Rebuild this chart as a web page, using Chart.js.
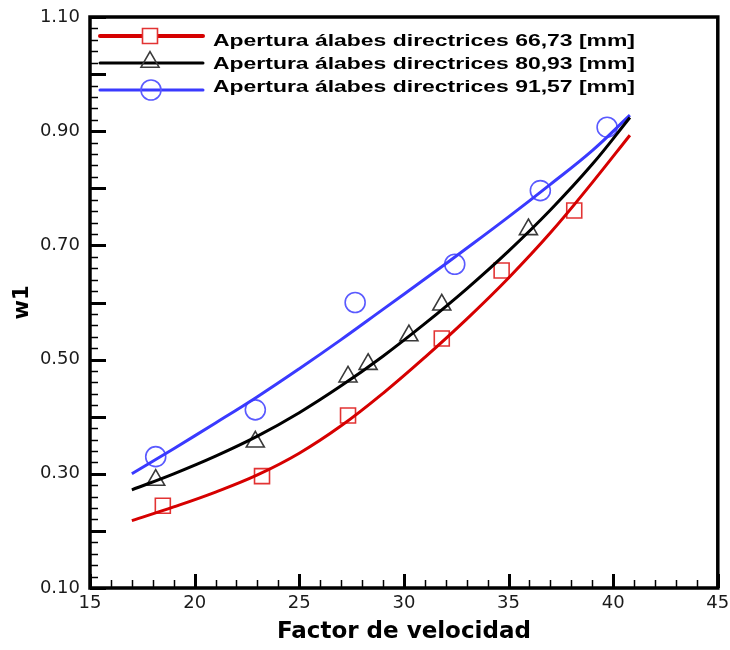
<!DOCTYPE html>
<html><head><meta charset="utf-8">
<script src="https://cdn.jsdelivr.net/npm/chart.js@4.4.1/dist/chart.umd.min.js"></script>
<style>html,body{margin:0;padding:0;background:#fff}</style>
</head><body>
<canvas id="c" width="730" height="650" style="display:block;width:730px;height:650px"></canvas>
<script>
// ---- data ----
const seriesLabels = [
  'Apertura álabes directrices 66,73 [mm]',
  'Apertura álabes directrices 80,93 [mm]',
  'Apertura álabes directrices 91,57 [mm]'
];
const xTitle = 'Factor de velocidad';
const yTitle = 'w1';

// fitted curves
const curveX     = [17, 19, 21, 23, 25, 27, 29, 31, 33, 35, 37, 39, 40.8];
const redCurve   = [0.218, 0.242, 0.268, 0.298, 0.336, 0.384, 0.441, 0.504, 0.571, 0.643, 0.722, 0.810, 0.893];
const blackCurve = [0.272, 0.300, 0.331, 0.366, 0.407, 0.454, 0.506, 0.563, 0.624, 0.690, 0.762, 0.842, 0.924];
const blueCurve  = [0.300, 0.344, 0.389, 0.435, 0.484, 0.535, 0.588, 0.641, 0.695, 0.750, 0.807, 0.866, 0.928];

// measured points
const redX   = [18.48, 23.22, 27.33, 31.81, 34.67, 38.14];
const redY   = [0.244, 0.296, 0.402, 0.537, 0.656, 0.761];
const blackX = [18.14, 22.90, 27.33, 28.29, 30.24, 31.81, 35.95];
const blackY = [0.289, 0.356, 0.470, 0.492, 0.542, 0.596, 0.728];
const blueX  = [18.14, 22.90, 27.67, 32.43, 36.52, 39.71];
const blueY  = [0.330, 0.412, 0.600, 0.667, 0.796, 0.907];

const xMin = 15, xMax = 45, xStep = 5, xMinor = 1;
const yMin = 0.1, yMax = 1.1, yStep = 0.2, yMajor = 0.1, yMinor = 0.02;

// ---- build chart ----
const pts = (xs, ys) => xs.map((x, i) => ({x: x, y: ys[i]}));
const lineColors = ['#d60000', '#000000', '#3a3aff'];
const markColors = ['#e23333', '#3a3a3a', '#5a5aff'];
const markStyles = ['rect', 'triangle', 'circle'];
const markRadius = [10.6, 10.4, 10];

const datasets = [];
[redCurve, blackCurve, blueCurve].forEach((c, i) => {
  datasets.push({
    label: seriesLabels[i], data: pts(curveX, c), showLine: true,
    borderColor: lineColors[i], borderWidth: 3, pointRadius: 0,
    tension: 0.4, fill: false
  });
});
[[redX, redY], [blackX, blackY], [blueX, blueY]].forEach((p, i) => {
  datasets.push({
    label: seriesLabels[i] + ' (pts)', data: pts(p[0], p[1]), showLine: false,
    pointStyle: markStyles[i], pointRadius: markRadius[i], pointHoverRadius: markRadius[i],
    pointBorderColor: markColors[i], pointBackgroundColor: 'rgba(0,0,0,0)',
    pointBorderWidth: 1.6, borderColor: markColors[i], backgroundColor: 'rgba(0,0,0,0)'
  });
});

const frameTicks = {
  id: 'frameTicks',
  afterDraw(chart) {
    const {ctx, chartArea: a, scales: {x, y}} = chart;
    ctx.save();
    ctx.strokeStyle = '#000';
    const nx = Math.round((xMax - xMin) / xMinor);
    for (let i = 0; i <= nx; i++) {
      const v = xMin + i * xMinor;
      const major = i % Math.round(xStep / xMinor) === 0;
      const px = Math.round(x.getPixelForValue(v)) + 0.5;
      ctx.lineWidth = major ? 3 : 1.5;
      ctx.beginPath();
      ctx.moveTo(px, a.bottom);
      ctx.lineTo(px, a.bottom - (major ? 14 : 8));
      ctx.stroke();
    }
    const ny = Math.round((yMax - yMin) / yMinor);
    const per = Math.round(yMajor / yMinor);
    for (let i = 0; i <= ny; i++) {
      const v = yMin + i * yMinor;
      const major = i % per === 0;
      const py = Math.round(y.getPixelForValue(v)) + 0.5;
      ctx.lineWidth = major ? 3 : 1.5;
      ctx.beginPath();
      ctx.moveTo(a.left, py);
      ctx.lineTo(a.left + (major ? 16 : 8), py);
      ctx.stroke();
    }
    ctx.lineWidth = 3.5;
    ctx.strokeRect(a.left, a.top, a.right - a.left, a.bottom - a.top);
    ctx.restore();
  }
};

const legendBox = {
  id: 'legendBox',
  afterDraw(chart) {
    const {ctx, chartArea: a} = chart;
    const lineY = [a.top + 19, a.top + 46, a.top + 73];
    const textY = [a.top + 29, a.top + 52, a.top + 75];
    const lw = [4, 3, 3];
    const x0 = a.left + 10, x1 = a.left + 113, xm = a.left + 60, tx = a.left + 123;
    ctx.save();
    for (let i = 0; i < 3; i++) {
      ctx.strokeStyle = lineColors[i];
      ctx.lineWidth = lw[i];
      ctx.lineCap = 'round';
      ctx.beginPath(); ctx.moveTo(x0, lineY[i]); ctx.lineTo(x1, lineY[i]); ctx.stroke();
      ctx.lineCap = 'butt';
      ctx.strokeStyle = markColors[i];
      ctx.lineWidth = 1.6;
      ctx.fillStyle = '#fff';
      const r = markRadius[i];
      ctx.beginPath();
      if (markStyles[i] === 'rect') {
        const s = r * Math.SQRT1_2;
        ctx.rect(xm - s, lineY[i] - s, 2 * s, 2 * s);
        ctx.fill();
      } else if (markStyles[i] === 'triangle') {
        const cy = lineY[i] - 1;
        let ang = 0;
        ctx.moveTo(xm + Math.sin(ang) * r, cy - Math.cos(ang) * r);
        for (let k = 0; k < 2; k++) { ang += 2 * Math.PI / 3; ctx.lineTo(xm + Math.sin(ang) * r, cy - Math.cos(ang) * r); }
        ctx.closePath();
      } else {
        ctx.arc(xm + 1, lineY[i], r, 0, Math.PI * 2);
      }
      ctx.stroke();
      ctx.fillStyle = '#000';
      ctx.font = 'bold 17px "Liberation Sans"';
      ctx.textBaseline = 'alphabetic';
      const w0 = ctx.measureText(seriesLabels[i]).width;
      const sx = 422 / w0;
      ctx.save();
      ctx.translate(tx, textY[i]);
      ctx.scale(sx, 1);
      ctx.fillText(seriesLabels[i], 0, 0);
      ctx.restore();
    }
    ctx.restore();
  }
};

new Chart(document.getElementById('c'), {
  type: 'scatter',
  data: {datasets: datasets},
  options: {
    responsive: false,
    animation: false,
    devicePixelRatio: 1,
    layout: {padding: {top: 17, right: 11, bottom: 0, left: 0}},
    plugins: {legend: {display: false}, tooltip: {enabled: false}},
    scales: {
      x: {
        type: 'linear', min: xMin, max: xMax,
        ticks: {stepSize: xStep, color: '#1a1a1a', font: {family: 'DejaVu Sans', size: 18}, padding: 5, maxRotation: 0, autoSkip: false},
        grid: {display: false, drawTicks: false},
        border: {display: false},
        title: {display: true, text: xTitle, color: '#000', font: {family: 'DejaVu Sans', size: 23, weight: 'bold'}, padding: {top: 0, bottom: 4}},
        afterFit: s => { s.height = 62; s.paddingLeft = 0; s.paddingRight = 0; }
      },
      y: {
        type: 'linear', min: yMin, max: yMax,
        ticks: {stepSize: yStep, color: '#1a1a1a', font: {family: 'DejaVu Sans', size: 18}, padding: 10, callback: v => Number(v).toFixed(2)},
        grid: {display: false, drawTicks: false},
        border: {display: false},
        title: {display: true, text: yTitle, color: '#000', font: {family: 'DejaVu Sans', size: 21, weight: 'bold'}, padding: {top: 10, bottom: 0}},
        afterFit: s => { s.width = 90; s.paddingTop = 0; s.paddingBottom = 0; }
      }
    }
  },
  plugins: [frameTicks, legendBox]
});
</script>
</body></html>
